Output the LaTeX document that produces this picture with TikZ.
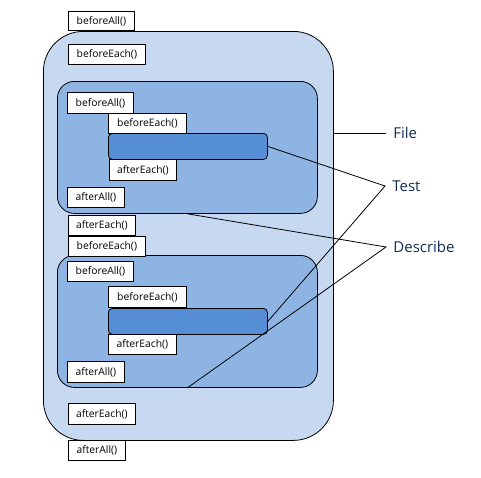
\documentclass[tikz,border=0pt]{standalone}
\usepackage{fontspec}
\setmainfont{Open Sans}
\usepackage{tikz}
\definecolor{fileblue}{RGB}{198,217,241}
\definecolor{descblue}{RGB}{142,180,227}
\definecolor{testblue}{RGB}{85,142,213}
\definecolor{labelblue}{RGB}{20,45,85}
\begin{document}
\begin{tikzpicture}[x=1pt, y=-1pt, line width=0.8pt,
	area/.style={draw, anchor=north west, inner sep=0pt},
	hook/.style={draw, fill=white, anchor=north west, inner sep=0pt, minimum height=20pt, font=\fontsize{10.3}{12}\selectfont},
	tag/.style={anchor=west, inner xsep=7pt, inner ysep=0pt, text=labelblue, font=\fontsize{15}{17}\selectfont}]
	\useasboundingbox (0,0) rectangle (481,477);
	% file, describe and test blocks
	\node[area, fill=fileblue, rounded corners=40pt, minimum width=290pt, minimum height=409pt] (file) at (43,31) {};
	\node[area, fill=descblue, rounded corners=17pt, minimum width=260pt, minimum height=132pt] (d1) at (57,81) {};
	\node[area, fill=descblue, rounded corners=17pt, minimum width=260pt, minimum height=132pt] (d2) at (57,255) {};
	\node[area, fill=testblue, rounded corners=4pt, minimum width=159pt, minimum height=26pt] (t1) at (108,133) {};
	\node[area, fill=testblue, rounded corners=4pt, minimum width=159pt, minimum height=26pt] (t2) at (108,308) {};
	% hooks
	\node[hook, minimum width=66pt, minimum height=19pt] (ba0) at (68,11) {beforeAll()};
	\node[hook, minimum width=77pt] (be0) at (68,44) {beforeEach()};
	\node[hook, minimum width=66pt, minimum height=21pt] (ba1) at (67,92) {beforeAll()};
	\node[hook, minimum width=78pt] (be1) at (108,113) {beforeEach()};
	\node[hook, minimum width=67pt, minimum height=21pt] (ae1) at (109,159) {afterEach()};
	\node[hook, minimum width=57pt] (aa1) at (67,187) {afterAll()};
	\node[hook, minimum width=67pt] (ae0) at (68,215) {afterEach()};
	\node[hook, minimum width=77pt] (be3) at (68,236) {beforeEach()};
	\node[hook, minimum width=66pt] (ba2) at (67,261) {beforeAll()};
	\node[hook, minimum width=78pt, minimum height=21pt] (be2) at (108,286) {beforeEach()};
	\node[hook, minimum width=68pt] (ae2) at (108,334) {afterEach()};
	\node[hook, minimum width=57pt, minimum height=21pt] (aa2) at (67,361) {afterAll()};
	\node[hook, minimum width=67pt, minimum height=21pt] (ae3) at (68,403) {afterEach()};
	\node[hook, minimum width=57pt] (aa3) at (68,440) {afterAll()};
	% labels
	\node[tag] (lfile) at (386,133) {File};
	\node[tag] (ltest) at (385,186) {Test};
	\node[tag] (ldesc) at (386,247) {Describe};
	\draw (file.east |- lfile.west) -- (lfile.west);
	\draw (t1.east) -- (ltest.west) -- (t2.east);
	\draw (d1.south) -- (ldesc.west) -- (d2.south);
\end{tikzpicture}
\end{document}
